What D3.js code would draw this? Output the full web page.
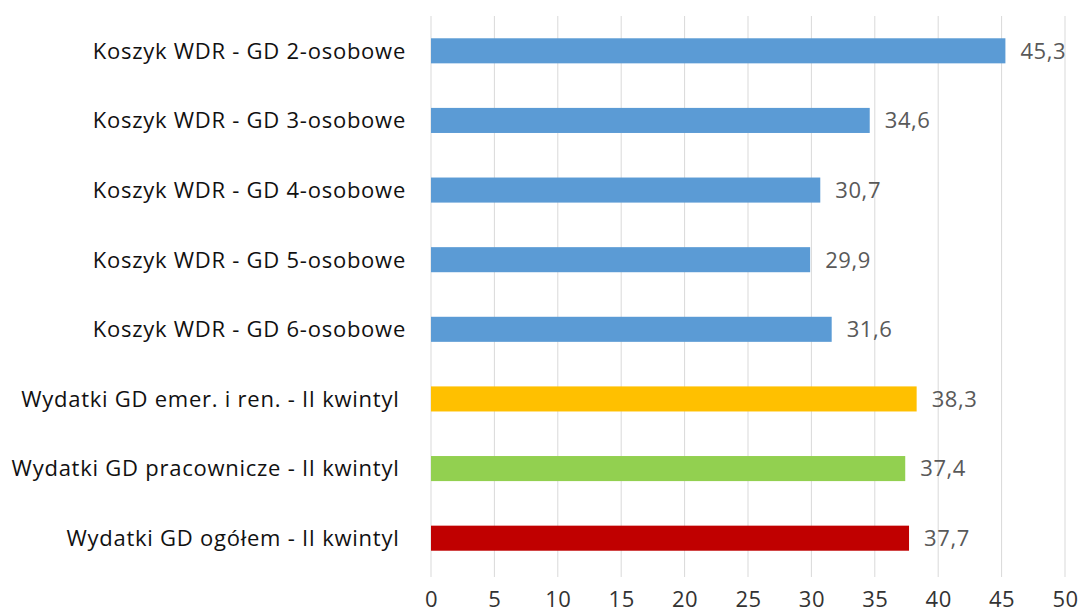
<!DOCTYPE html>
<html><head><meta charset="utf-8">
<script src="https://cdn.jsdelivr.net/npm/d3@7"></script>
<style>body{margin:0;background:#fff}svg{display:block}text{white-space:pre}</style>
</head><body>
<svg id="c" width="1080" height="614"></svg>
<script>
const categories = ["Koszyk WDR - GD 2-osobowe","Koszyk WDR - GD 3-osobowe","Koszyk WDR - GD 4-osobowe","Koszyk WDR - GD 5-osobowe","Koszyk WDR - GD 6-osobowe","Wydatki GD emer. i ren. - II kwintyl ","Wydatki GD pracownicze - II kwintyl ","Wydatki GD ogółem - II kwintyl "];
const values = [45.3,34.6,30.7,29.9,31.6,38.3,37.4,37.7];
const barColors = ["#5B9BD5","#5B9BD5","#5B9BD5","#5B9BD5","#5B9BD5","#FFC000","#92D050","#C00000"];
const ticks = [0,5,10,15,20,25,30,35,40,45,50];

const svg = d3.select("#c");
const x = d3.scaleLinear().domain([0,50]).range([431,1065]);
const y = d3.scaleBand().domain(categories).range([16,573]).paddingInner(0.64).paddingOuter(0.32);
const font = "'Open Sans', 'Noto Sans', sans-serif";

// gridlines
svg.append("g").selectAll("line").data(ticks).join("line")
  .attr("x1",d=>x(d)).attr("x2",d=>x(d)).attr("y1",16).attr("y2",577)
  .attr("stroke","#d9d9d9").attr("stroke-width",1);

// bars
svg.append("g").selectAll("rect").data(values).join("rect")
  .attr("x",x(0)).attr("y",(d,i)=>y(categories[i]))
  .attr("width",d=>x(d)-x(0)).attr("height",y.bandwidth())
  .attr("fill",(d,i)=>barColors[i]);

// value labels
svg.append("g").selectAll("text").data(values).join("text")
  .attr("x",d=>x(d)+15).attr("y",(d,i)=>y(categories[i])+y.bandwidth()/2)
  .attr("dy","0.36em").attr("font-family",font).attr("font-size",22).attr("letter-spacing","0.6px")
  .attr("fill","#595959").text(d=>d.toFixed(1).replace(".",","));

// category labels
svg.append("g").selectAll("text").data(categories).join("text")
  .attr("x",406).attr("y",d=>y(d)+y.bandwidth()/2)
  .attr("dy","0.36em").attr("text-anchor","end").attr("font-family",font).attr("font-size",22)
  .attr("letter-spacing","0.75px")
  .attr("fill","#111").text(d=>d);

// x axis
const ax = svg.append("g").attr("transform","translate(0,593)")
  .call(d3.axisBottom(x).tickValues(ticks).tickSize(0).tickFormat(d=>d));
ax.select(".domain").remove();
ax.selectAll("text").attr("font-family",font).attr("font-size",22).attr("letter-spacing","0.5px").attr("fill","#333").attr("dy","0.5em");
</script>
</body></html>
